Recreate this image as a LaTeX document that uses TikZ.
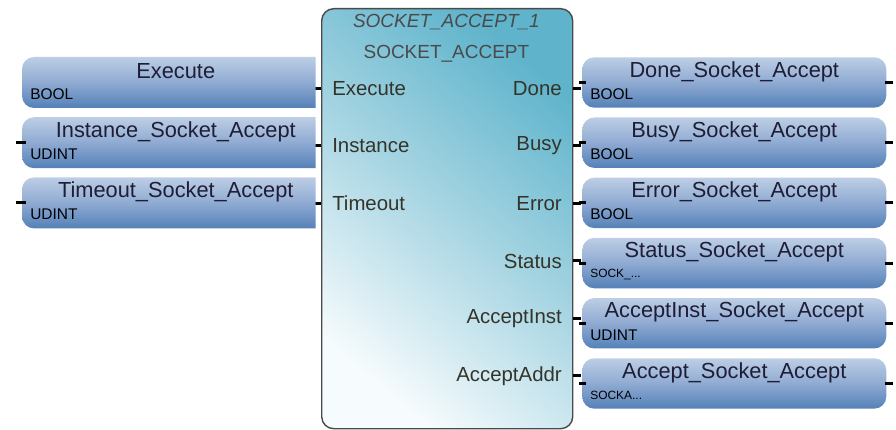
\documentclass[tikz,border=0pt]{standalone}
\usepackage{fontspec}
\setmainfont{Liberation Sans}
\usetikzlibrary{positioning,calc}
\definecolor{blockteal}{HTML}{5FB4CC}
\definecolor{blockmid}{HTML}{A9D6E3}
\definecolor{blockwhite}{HTML}{F6FBFD}
\definecolor{blockline}{HTML}{4A4A4A}
\definecolor{vartop}{HTML}{BDCEE5}
\definecolor{varmid}{HTML}{8FAAD2}
\definecolor{varbot}{HTML}{5481B8}
\definecolor{nametext}{HTML}{1E1E36}
\definecolor{porttext}{HTML}{34342A}

\begin{document}
\begin{tikzpicture}[
  every node/.style={inner sep=0pt},
  fbblock/.style={draw=blockline, line width=0.35mm, rounded corners=3mm,
    top color=blockteal, bottom color=blockwhite, middle color=blockmid, shading angle=-40,
    minimum width=6.275cm, minimum height=10.5cm, anchor=north west},
  varin/.style={minimum width=7.325cm, minimum height=1.26cm, anchor=north west},
  varsq/.style={top color=vartop, bottom color=varbot, middle color=varmid},
  varout/.style={rounded corners=3mm, top color=vartop, bottom color=varbot, middle color=varmid,
    minimum width=7.6cm, minimum height=1.26cm, anchor=north west},
  varname/.style={font=\fontsize{15.5}{17}\selectfont, text=nametext},
  vartype/.style={font=\fontsize{11}{12}\selectfont, text=black, anchor=west},
  vartypesm/.style={font=\fontsize{8.5}{10}\selectfont, text=black, anchor=west},
  portlbl/.style={font=\fontsize{14.5}{16}\selectfont, text=porttext},
  titlelbl/.style={font=\fontsize{13.5}{15}\selectfont, text=blockline},
  pinline/.style={line width=0.075cm, black}
]
\useasboundingbox (0,0) rectangle (22.4,-10.75);
% function block
\node[fbblock] (Block) at (8.025,-0.200) {};
\node[titlelbl] (BlockInst) at (11.160,-0.560) {\itshape SOCKET\_ACCEPT\_1};
\node[titlelbl] (BlockType) at (11.160,-1.350) {SOCKET\_ACCEPT};
\node[portlbl, anchor=west] (inExecute) at (8.300,-2.2125) {Execute};
\node[portlbl, anchor=west] (inInstance) at (8.300,-3.650) {Instance};
\node[portlbl, anchor=west] (inTimeout) at (8.300,-5.0875) {Timeout};
\node[portlbl, anchor=east] (outDone) at (14.050,-2.2125) {Done};
\node[portlbl, anchor=east] (outBusy) at (14.050,-3.650) {Busy};
\node[portlbl, anchor=east] (outError) at (14.050,-5.0875) {Error};
\node[portlbl, anchor=east] (outStatus) at (14.050,-6.525) {Status};
\node[portlbl, anchor=east] (outAcceptInst) at (14.050,-7.9625) {AcceptInst};
\node[portlbl, anchor=east] (outAcceptAddr) at (14.050,-9.400) {AcceptAddr};
\draw[pinline] (Block.west |- inExecute) -- ++(-0.150,0);
\draw[pinline] (Block.west |- inInstance) -- ++(-0.150,0);
\draw[pinline] (Block.west |- inTimeout) -- ++(-0.150,0);
\draw[pinline] (Block.east |- outDone) -- ++(0.200,0);
\draw[pinline] (Block.east |- outBusy) -- ++(0.200,0);
\draw[pinline] (Block.east |- outError) -- ++(0.200,0);
\draw[pinline] (Block.east |- outStatus) -- ++(0.200,0);
\draw[pinline] (Block.east |- outAcceptInst) -- ++(0.200,0);
\draw[pinline] (Block.east |- outAcceptAddr) -- ++(0.200,0);
% input variables (rounded on the left only)
\node[varin] (vExecute) at (0.550,-1.425) {};
\shade[varsq] (vExecute.north east) -- ([xshift=3mm]vExecute.north west) arc[start angle=90, end angle=180, radius=3mm]
  -- ([yshift=3mm]vExecute.south west) arc[start angle=180, end angle=270, radius=3mm] -- (vExecute.south east) -- cycle;
\node[varname] (vExecuteName) at ($(vExecute.center)+(0.175,0.275)$) {Execute};
\node[vartype] (vExecuteType) at ($(vExecute.west)+(0.200,-0.290)$) {BOOL};
\node[varin] (vInstance) at (0.550,-2.930) {};
\shade[varsq] (vInstance.north east) -- ([xshift=3mm]vInstance.north west) arc[start angle=90, end angle=180, radius=3mm]
  -- ([yshift=3mm]vInstance.south west) arc[start angle=180, end angle=270, radius=3mm] -- (vInstance.south east) -- cycle;
\node[varname] (vInstanceName) at ($(vInstance.center)+(0.175,0.275)$) {Instance\_Socket\_Accept};
\node[vartype] (vInstanceType) at ($(vInstance.west)+(0.200,-0.290)$) {UDINT};
\draw[pinline] (vInstance.west) ++(0.100,0) -- ++(-0.250,0);
\node[varin] (vTimeout) at (0.550,-4.435) {};
\shade[varsq] (vTimeout.north east) -- ([xshift=3mm]vTimeout.north west) arc[start angle=90, end angle=180, radius=3mm]
  -- ([yshift=3mm]vTimeout.south west) arc[start angle=180, end angle=270, radius=3mm] -- (vTimeout.south east) -- cycle;
\node[varname] (vTimeoutName) at ($(vTimeout.center)+(0.175,0.275)$) {Timeout\_Socket\_Accept};
\node[vartype] (vTimeoutType) at ($(vTimeout.west)+(0.200,-0.290)$) {UDINT};
\draw[pinline] (vTimeout.west) ++(0.100,0) -- ++(-0.250,0);
% output variables
\node[varout] (vDone) at (14.550,-1.425) {};
\node[varname] (vDoneName) at ($(vDone.center)+(0,0.275)$) {Done\_Socket\_Accept};
\node[vartype] (vDoneType) at ($(vDone.west)+(0.200,-0.290)$) {BOOL};
\node[varout] (vBusy) at (14.550,-2.930) {};
\node[varname] (vBusyName) at ($(vBusy.center)+(0,0.275)$) {Busy\_Socket\_Accept};
\node[vartype] (vBusyType) at ($(vBusy.west)+(0.200,-0.290)$) {BOOL};
\node[varout] (vError) at (14.550,-4.435) {};
\node[varname] (vErrorName) at ($(vError.center)+(0,0.275)$) {Error\_Socket\_Accept};
\node[vartype] (vErrorType) at ($(vError.west)+(0.200,-0.290)$) {BOOL};
\node[varout] (vStatus) at (14.550,-5.940) {};
\node[varname] (vStatusName) at ($(vStatus.center)+(0,0.275)$) {Status\_Socket\_Accept};
\node[vartypesm] (vStatusType) at ($(vStatus.west)+(0.200,-0.290)$) {SOCK\_...};
\node[varout] (vAcceptInst) at (14.550,-7.445) {};
\node[varname] (vAcceptInstName) at ($(vAcceptInst.center)+(0,0.275)$) {AcceptInst\_Socket\_Accept};
\node[vartype] (vAcceptInstType) at ($(vAcceptInst.west)+(0.200,-0.290)$) {UDINT};
\node[varout] (vAcceptAddr) at (14.550,-8.950) {};
\node[varname] (vAcceptAddrName) at ($(vAcceptAddr.center)+(0,0.275)$) {Accept\_Socket\_Accept};
\node[vartypesm] (vAcceptAddrType) at ($(vAcceptAddr.west)+(0.200,-0.290)$) {SOCKA...};
\draw[pinline] (vDone.west) ++(-0.075,0) -- ++(0.175,0);
\draw[pinline] (vBusy.west) ++(-0.075,0) -- ++(0.175,0);
\draw[pinline] (vError.west) ++(-0.075,0) -- ++(0.175,0);
\draw[pinline] (vStatus.west) ++(-0.075,0) -- ++(0.175,0);
\draw[pinline] (vAcceptInst.west) ++(-0.075,0) -- ++(0.175,0);
\draw[pinline] (vAcceptAddr.west) ++(-0.075,0) -- ++(0.175,0);
\draw[pinline] (vDone.east) ++(-0.050,0) -- ++(0.200,0);
\draw[pinline] (vBusy.east) ++(-0.050,0) -- ++(0.200,0);
\draw[pinline] (vError.east) ++(-0.050,0) -- ++(0.200,0);
\draw[pinline] (vStatus.east) ++(-0.050,0) -- ++(0.200,0);
\draw[pinline] (vAcceptInst.east) ++(-0.050,0) -- ++(0.200,0);
\draw[pinline] (vAcceptAddr.east) ++(-0.050,0) -- ++(0.200,0);
\end{tikzpicture}
\end{document}
